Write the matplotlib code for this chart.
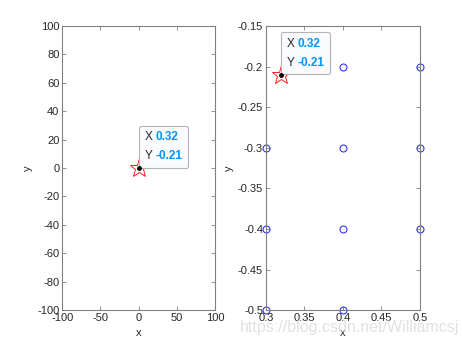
import matplotlib.pyplot as plt
from matplotlib.ticker import FormatStrFormatter
from matplotlib.offsetbox import TextArea, HPacker, VPacker, AnnotationBbox

plt.rcParams['font.family'] = ['Liberation Sans', 'DejaVu Sans']
plt.rcParams['axes.unicode_minus'] = False

# selected point (data tip)
px = 0.32
py = -0.21

# grid points on the right plot
grid_x = [0.4, 0.5, 0.3, 0.4, 0.5, 0.3, 0.4, 0.5, 0.3, 0.4]
grid_y = [-0.2, -0.2, -0.3, -0.3, -0.3, -0.4, -0.4, -0.4, -0.5, -0.5]

left_xticks = [-100, -50, 0, 50, 100]
left_yticks = list(range(-100, 101, 20))
right_xticks = [0.3, 0.35, 0.4, 0.45, 0.5]
right_yticks = [-0.5, -0.45, -0.4, -0.35, -0.3, -0.25, -0.2, -0.15]

axis_col = '#808080'
text_col = '#262626'
tip_blue = '#0096ff'

fig = plt.figure(figsize=(4.64, 3.48), dpi=100)
ax1 = fig.add_axes([0.134, 0.109, 0.33, 0.816])
ax2 = fig.add_axes([0.573, 0.109, 0.332, 0.816])


def style(ax):
    for s in ax.spines.values():
        s.set_color(axis_col)
        s.set_linewidth(0.8)
    ax.tick_params(direction='in', length=3, width=0.6, colors=axis_col,
                   labelcolor=text_col, labelsize=8, top=True, right=True,
                   pad=2)
    ax.set_xlabel('x', fontsize=8, color=text_col, labelpad=4)
    ax.set_ylabel('y', fontsize=8, color=text_col, labelpad=3)


def row(name, value):
    a = TextArea(name, textprops=dict(fontsize=8.5, color=text_col))
    b = TextArea(value, textprops=dict(fontsize=8.5, color=tip_blue,
                                       fontweight='bold'))
    return HPacker(children=[a, b], pad=0, sep=2, align='baseline')


def datatip(ax):
    ax.plot(px, py, marker='*', markersize=14, markerfacecolor='none',
            markeredgecolor='red', markeredgewidth=0.6, zorder=4)
    ax.plot(px, py, 'k.', markersize=5, zorder=7)
    box = VPacker(children=[row('X', f'{px:g}'), row('Y', f'{py:g}')],
                  pad=0, sep=5, align='left')
    ab = AnnotationBbox(box, (px, py), xybox=(4, 4.5),
                        xycoords='data', boxcoords='offset points',
                        box_alignment=(0, 0), pad=0.4,
                        bboxprops=dict(boxstyle='round,pad=0.4,rounding_size=0.15',
                                       fc='#fafbff', ec='#b4b4b4', lw=0.8),
                        zorder=6)
    ax.add_artist(ab)


# left plot
style(ax1)
ax1.set_xlim(-100, 100)
ax1.set_ylim(-100, 100)
ax1.set_xticks(left_xticks)
ax1.set_yticks(left_yticks)
datatip(ax1)

# right plot
style(ax2)
ax2.plot(grid_x, grid_y, 'o', markersize=5, markerfacecolor='none',
         markeredgecolor='#3333ff', markeredgewidth=0.8, clip_on=False)
ax2.set_xlim(0.3, 0.5)
ax2.set_ylim(-0.5, -0.15)
ax2.set_xticks(right_xticks)
ax2.set_yticks(right_yticks)
ax2.xaxis.set_major_formatter(FormatStrFormatter('%g'))
ax2.yaxis.set_major_formatter(FormatStrFormatter('%g'))
datatip(ax2)

fig.text(0.99, 0.058, 'https://blog.csdn.net/Williamcsj', ha='right',
         va='center', fontsize=11.5, color='#dadada', alpha=0.8)

fig.savefig('out.png', dpi=100)
